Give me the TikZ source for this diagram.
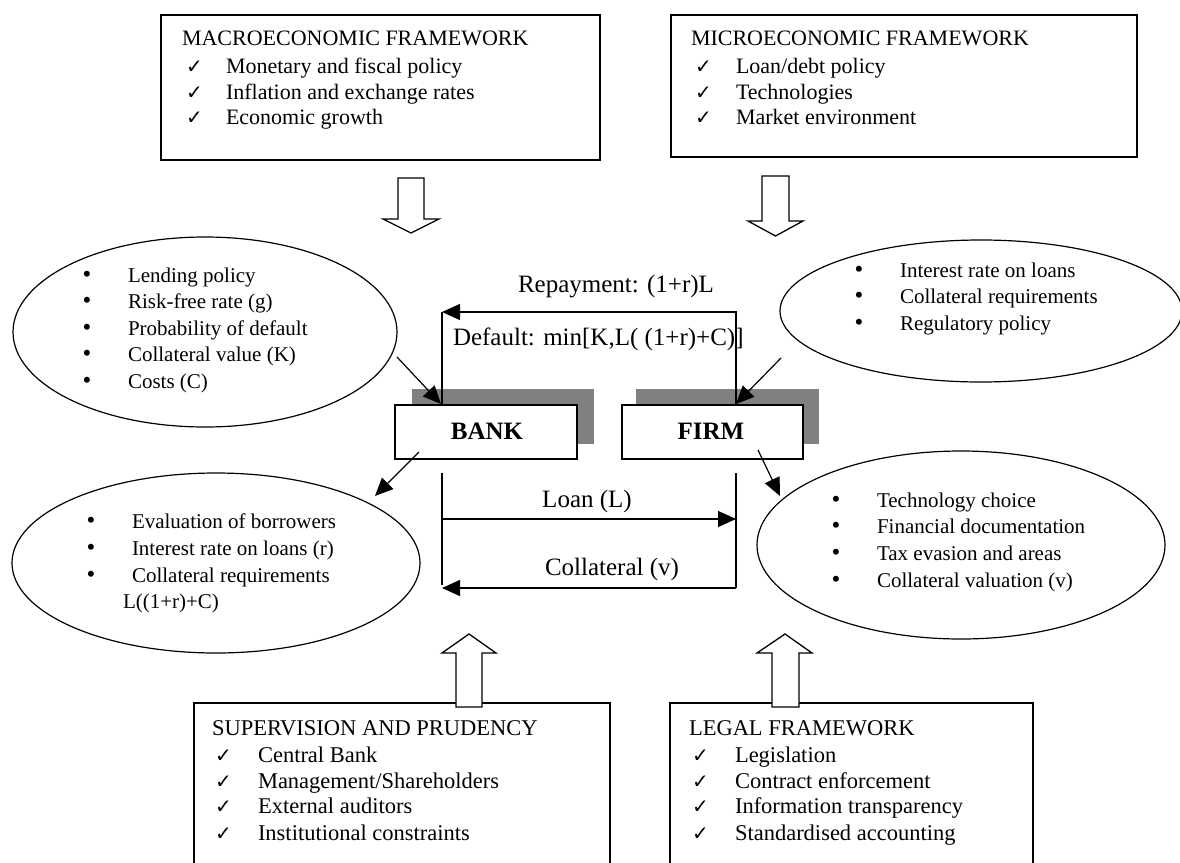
\documentclass[tikz,border=0pt]{standalone}
\usepackage{fontspec}
\setmainfont{Liberation Serif}
\newfontfamily\symfont{DejaVu Sans}
\usetikzlibrary{arrows.meta,shapes.geometric}
\newcommand{\chk}{{\symfont\fontsize{20}{20}\selectfont ✓}}
\newcommand{\bul}{{\fontsize{25}{25}\selectfont •}}
\begin{document}
\begin{tikzpicture}[x=1pt,y=-1pt,
  every node/.style={font=\fontsize{22}{26}\selectfont, inner sep=0pt, outer sep=0pt},
  frame/.style={draw, line width=1.3pt, anchor=north west, fill=white},
  oval/.style={draw, ellipse, line width=1.2pt, inner sep=0pt},
  txt/.style={anchor=base west},
  etxt/.style={anchor=base west, font=\fontsize{21}{25}\selectfont},
  btxt/.style={anchor=base west, font=\fontsize{22.5}{26}\selectfont},
  ctr/.style={anchor=base},
  lab/.style={font=\fontsize{25}{30}\selectfont},
  conn/.style={line width=1.2pt},
  arr/.style={conn, -{Triangle[length=18pt,width=16pt]}},
  blk/.style={draw, line width=1.3pt, fill=white, line join=miter},
  shade/.style={fill=black!50, anchor=north west},
  actor/.style={draw, line width=1.3pt, fill=white, anchor=north west},
  actorlab/.style={anchor=base, font=\fontsize{25}{30}\selectfont\bfseries}
]
\useasboundingbox (0,0) rectangle (1180,862);
\clip (0,0) rectangle (1180,862);

% ---------- top boxes ----------
\node[frame, minimum width=439pt, minimum height=145pt] (macro) at (161,15) {};
\node[txt] (macroT) at (182,45) {MACROECONOMIC FRAMEWORK};
\node[txt] (macroC1) at (186,73) {\chk};
\node[txt] (macro1) at (226,73) {Monetary and fiscal policy};
\node[txt] (macroC2) at (186,99) {\chk};
\node[txt] (macro2) at (226,99) {Inflation and exchange rates};
\node[txt] (macroC3) at (186,124) {\chk};
\node[txt] (macro3) at (226,124) {Economic growth};

\node[frame, minimum width=466pt, minimum height=142pt] (micro) at (671,15) {};
\node[txt] (microT) at (691,45) {MICROECONOMIC FRAMEWORK};
\node[txt] (microC1) at (695,73) {\chk};
\node[txt] (micro1) at (736,73) {Loan/debt policy};
\node[txt] (microC2) at (695,99) {\chk};
\node[txt] (micro2) at (736,99) {Technologies};
\node[txt] (microC3) at (695,124) {\chk};
\node[txt] (micro3) at (736,124) {Market environment};

% ---------- block arrows down ----------
\draw[blk] (398,178) -- (398,219) -- (383,219) -- (411,233) -- (439,219) -- (424,219) -- (424,178) -- cycle;
\draw[blk] (762,176) -- (762,221) -- (748,221) -- (775.5,236) -- (803,221) -- (789,221) -- (789,176) -- cycle;

% ---------- ellipses ----------
\node[oval, minimum width=384pt, minimum height=190pt] (bankIn) at (205,332) {};
\node[ctr] at (87,282) {\bul};  \node[etxt] (bi1) at (128,282) {Lending policy};
\node[ctr] at (87,308) {\bul};  \node[etxt] (bi2) at (128,308) {Risk-free rate (g)};
\node[ctr] at (87,335) {\bul};  \node[etxt] (bi3) at (128,335) {Probability of default};
\node[ctr] at (87,361) {\bul};  \node[etxt] (bi4) at (128,361) {Collateral value (K)};
\node[ctr] at (87,388) {\bul};  \node[etxt] (bi5) at (128,388) {Costs (C)};

\node[oval, minimum width=402pt, minimum height=142pt] (firmIn) at (981,311) {};
\node[ctr] at (859,277) {\bul};  \node[etxt] (fi1) at (900,277) {Interest rate on loans};
\node[ctr] at (859,303) {\bul};  \node[etxt] (fi2) at (900,303) {Collateral requirements};
\node[ctr] at (859,330) {\bul};  \node[etxt] (fi3) at (900,330) {Regulatory policy};

\node[oval, minimum width=408pt, minimum height=180pt] (bankOut) at (216,563) {};
\node[ctr] at (91,528) {\bul};  \node[etxt] (bo1) at (132,528) {Evaluation of borrowers};
\node[ctr] at (91,555) {\bul};  \node[etxt] (bo2) at (132,555) {Interest rate on loans (r)};
\node[ctr] at (91,582) {\bul};  \node[etxt] (bo3) at (132,582) {Collateral requirements};
\node[etxt] (bo4) at (123,608) {L((1+r)+C)};

\node[oval, minimum width=408pt, minimum height=188pt] (firmOut) at (961,545) {};
\node[ctr] at (836,507) {\bul};  \node[etxt] (fo1) at (877,507) {Technology choice};
\node[ctr] at (836,533) {\bul};  \node[etxt] (fo2) at (877,533) {Financial documentation};
\node[ctr] at (836,560) {\bul};  \node[etxt] (fo3) at (877,560) {Tax evasion and areas};
\node[ctr] at (836,587) {\bul};  \node[etxt] (fo4) at (877,587) {Collateral valuation (v)};

% ---------- BANK / FIRM ----------
\node[shade, minimum width=182pt, minimum height=55pt] (bankSh) at (412,389) {};
\node[actor, minimum width=182pt, minimum height=54pt] (bank) at (395,405) {};
\node[actorlab] (bankL) at (487,439) {BANK};
\node[shade, minimum width=183pt, minimum height=55pt] (firmSh) at (636,389) {};
\node[actor, minimum width=181pt, minimum height=54pt] (firm) at (622,405) {};
\node[actorlab] (firmL) at (711,439) {FIRM};

% ---------- repayment / default ----------
\coordinate (fTop) at (736,405);
\coordinate (bTop) at (442,405);
\coordinate (rpR) at (736,312);
\coordinate (rpL) at (442,312);
\draw[arr] (fTop) -- (rpR) -- (rpL);
\draw[conn] (rpL) -- (bTop);
\node[ctr, lab] (repay) at (616,292) {Repayment: (1+r)L};
\node[anchor=base west, lab] (default) at (453,345) {Default: min[K,L( (1+r)+C)]};

% ---------- diagonal connectors ----------
\coordinate (d1s) at (397,357); \coordinate (d1e) at (441,404);
\draw[arr] (d1s) -- (d1e);
\coordinate (d2s) at (781,358); \coordinate (d2e) at (736,404);
\draw[arr] (d2s) -- (d2e);
\coordinate (d3s) at (419,452); \coordinate (d3e) at (375,496);
\draw[arr] (d3s) -- (d3e);
\coordinate (d4s) at (758,450); \coordinate (d4e) at (780,496);
\draw[arr] (d4s) -- (d4e);

% ---------- loan / collateral ----------
\coordinate (lvTop) at (442,473); \coordinate (lvBot) at (442,585);
\coordinate (rvTop) at (736,473); \coordinate (rvBot) at (736,588);
\draw[conn] (lvTop) -- (lvBot);
\draw[conn] (rvTop) -- (rvBot);
\coordinate (loanS) at (442,519); \coordinate (loanE) at (736,519);
\draw[arr] (loanS) -- (loanE);
\coordinate (colS) at (736,588); \coordinate (colE) at (442,588);
\draw[arr] (colS) -- (colE);
\node[ctr, lab] (loanL) at (587,507) {Loan (L)};
\node[ctr, lab] (colL) at (612,575) {Collateral (v)};

% ---------- bottom boxes ----------
\node[frame, minimum width=416pt, minimum height=180pt] (superv) at (194,703) {};
\node[btxt] (supT) at (212,735) {SUPERVISION AND PRUDENCY};
\node[txt] (supC1) at (215,762) {\chk};  \node[btxt] (sup1) at (258,762) {Central Bank};
\node[txt] (supC2) at (215,788) {\chk};  \node[btxt] (sup2) at (258,788) {Management/Shareholders};
\node[txt] (supC3) at (215,813) {\chk};  \node[btxt] (sup3) at (258,813) {External auditors};
\node[txt] (supC4) at (215,840) {\chk};  \node[btxt] (sup4) at (258,840) {Institutional constraints};

\node[frame, minimum width=363pt, minimum height=180pt] (legal) at (670,703) {};
\node[btxt] (legT) at (689,735) {LEGAL FRAMEWORK};
\node[txt] (legC1) at (692,762) {\chk};  \node[btxt] (leg1) at (735,762) {Legislation};
\node[txt] (legC2) at (692,788) {\chk};  \node[btxt] (leg2) at (735,788) {Contract enforcement};
\node[txt] (legC3) at (692,813) {\chk};  \node[btxt] (leg3) at (735,813) {Information transparency};
\node[txt] (legC4) at (692,840) {\chk};  \node[btxt] (leg4) at (735,840) {Standardised accounting};

% ---------- block arrows up ----------
\draw[blk] (456,707) -- (456,653) -- (442,653) -- (469,634) -- (496,653) -- (482,653) -- (482,707) -- cycle;
\draw[blk] (772,707) -- (772,653) -- (757,653) -- (785,634) -- (812,653) -- (799,653) -- (799,707) -- cycle;
\end{tikzpicture}
\end{document}
